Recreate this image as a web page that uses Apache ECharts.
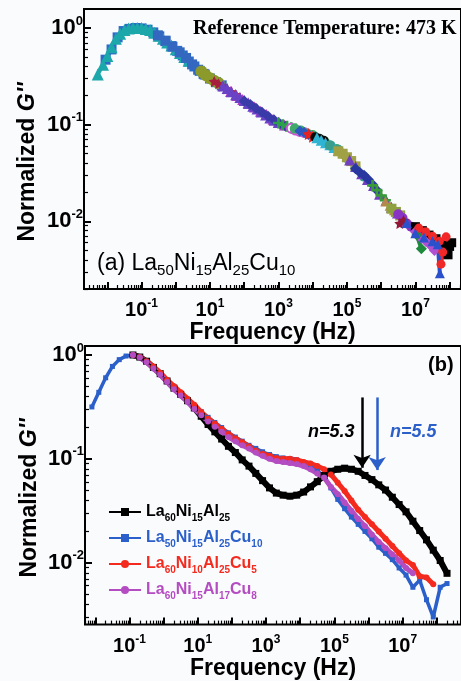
<!DOCTYPE html>
<html><head><meta charset="utf-8">
<script src="https://cdn.jsdelivr.net/npm/echarts@6/dist/echarts.min.js"></script>
<style>html,body{margin:0;padding:0;background:#fafbfd}#c{width:461px;height:681px}</style>
</head><body><div id="c"></div><script>
// ---------- Panel (b) data ----------
const freqB = [0.0079, 0.0126, 0.02, 0.0316, 0.05, 0.079, 0.126, 0.2, 0.316, 0.5, 0.79, 1.26, 2, 3.16, 5, 7.9, 12.6, 20, 31.6, 50, 79, 126, 200, 316, 500, 790, 1260, 2000, 3160, 5000, 7900, 12600, 20000, 31600, 50000, 79000, 1.26e5, 2e5, 3.16e5, 5e5, 7.9e5, 1.26e6, 2e6, 3.16e6, 5e6, 7.9e6, 1.26e7, 2e7, 3.16e7, 5e7, 7.9e7, 1.26e8, 2e8];
const gBlack = [null, null, null, null, null, null, 1.0, 0.955, 0.871, 0.759, 0.661, 0.562, 0.479, 0.417, 0.363, 0.309, 0.257, 0.214, 0.182, 0.155, 0.132, 0.115, 0.0977, 0.0851, 0.0724, 0.0617, 0.0525, 0.0468, 0.0447, 0.0437, 0.0447, 0.0479, 0.0537, 0.0603, 0.0692, 0.0759, 0.0794, 0.0813, 0.0794, 0.0759, 0.0692, 0.0631, 0.0562, 0.0501, 0.0427, 0.0363, 0.0309, 0.0251, 0.0204, 0.0166, 0.0132, 0.0105, 0.0079];
const gBlue = [0.316, 0.437, 0.603, 0.776, 0.902, 0.977, 1.0, 0.955, 0.871, 0.759, 0.661, 0.562, 0.490, 0.427, 0.372, 0.324, 0.285, 0.251, 0.224, 0.200, 0.178, 0.162, 0.148, 0.135, 0.126, 0.117, 0.110, 0.105, 0.102, 0.100, 0.0977, 0.0912, 0.0851, 0.0776, 0.0661, 0.0525, 0.0407, 0.0331, 0.0275, 0.0234, 0.0200, 0.0170, 0.0141, 0.0123, 0.0107, 0.0089, 0.0076, 0.0058, 0.0068, 0.0044, 0.0030, 0.0058, 0.0063];
const gRed = [null, null, null, null, null, null, 1.0, 0.955, 0.871, 0.776, 0.676, 0.575, 0.501, 0.437, 0.380, 0.331, 0.282, 0.245, 0.219, 0.195, 0.174, 0.158, 0.145, 0.132, 0.120, 0.112, 0.107, 0.102, 0.100, 0.100, 0.0977, 0.0933, 0.0902, 0.0851, 0.0794, 0.0708, 0.0589, 0.0490, 0.0398, 0.0324, 0.0275, 0.0234, 0.0200, 0.0170, 0.0145, 0.0123, 0.0105, 0.0095, 0.0074, 0.0072, 0.0062, null, null];
const gMagenta = [null, null, null, null, null, null, 1.0, 0.944, 0.851, 0.741, 0.646, 0.550, 0.468, 0.407, 0.355, 0.302, 0.263, 0.229, 0.204, 0.182, 0.162, 0.148, 0.135, 0.126, 0.115, 0.107, 0.100, 0.0955, 0.0933, 0.0912, 0.0891, 0.0851, 0.0794, 0.0724, 0.0661, 0.0537, 0.0457, 0.0380, 0.0316, 0.0263, 0.0224, 0.0186, 0.0158, 0.0138, 0.0120, 0.0105, 0.0089, 0.0079, null, null, null, null, null];
const namesB = ['La60Ni15Al25', 'La50Ni15Al25Cu10', 'La60Ni10Al25Cu5', 'La60Ni15Al17Cu8'];
// arrows (frequency, top value, tip value)
const arrowBlack = [6.5e5, 0.39, 0.082];
const arrowBlue = [1.8e6, 0.39, 0.078];

// ---------- Panel (a) data (master curve pieces, [Hz, G'']) ----------
const aTeal = [[0.00525,0.331],[0.0075,0.417],[0.01,0.513],[0.0133,0.631],[0.0178,0.776],[0.0237,0.871],[0.0316,0.955],[0.0422,0.989],[0.0562,1.0],[0.075,1.0],[0.1,1.0],[0.133,0.977],[0.178,0.955],[0.237,0.891],[0.316,0.832],[0.422,0.776],[0.562,0.708],[0.75,0.661],[1.0,0.603],[1.33,0.55],[1.78,0.501],[2.37,0.457]];
const aBlue = [[0.0089,0.47],[0.0133,0.6],[0.02,0.8],[0.03,0.93],[0.045,0.98],[0.067,1.0],[0.1,0.99],[0.15,0.96],[0.22,0.9],[0.33,0.82],[0.5,0.73],[0.75,0.65],[1.1,0.58],[1.6,0.52],[2.4,0.45],[3.5,0.4],[5.0,0.36],[6.5,0.335]];
const aBlueB = [[0.3,0.84],[0.5,0.74],[0.8,0.64],[1.3,0.56],[2,0.49],[3,0.42],[4.5,0.37],[7,0.33],[10,0.3],[15,0.275],[22,0.255]];
const aOlive = [[5.62,0.355],[7.5,0.324],[10,0.302],[13.3,0.285],[17.8,0.269]];
const aDkRed = [[13.3,0.28],[17.8,0.265],[23.7,0.25],[31.6,0.234],[42.2,0.219],[56.2,0.204],[75,0.19]];
const aMagenta = [[40,0.22],[60,0.2],[90,0.182],[130,0.168],[200,0.152],[300,0.138],[450,0.127],[700,0.114],[1000,0.106],[1500,0.099]];
const aPurple = [[23.7,0.251],[31.6,0.236],[42.2,0.219],[56.2,0.204],[75,0.191],[100,0.178],[133,0.166],[178,0.155],[237,0.145],[316,0.135],[422,0.126],[562,0.117],[750,0.111],[1000,0.105]];
const aNavy = [[100,0.176],[150,0.162],[220,0.148],[330,0.134],[500,0.122],[750,0.112],[1100,0.102],[1600,0.096],[2400,0.091]];
const aGreen = [[1000,0.104],[1330,0.1],[1780,0.096],[2370,0.093],[3160,0.09]];
const aViolet = [[2370,0.092],[3160,0.088],[4220,0.085],[5620,0.083]];
const aGreenC = [[3000,0.091],[4500,0.087],[7000,0.081],[10000,0.078],[15000,0.072],[22000,0.067],[33000,0.061],[50000,0.056],[75000,0.05]];
const aBlue2 = [[4220,0.086],[5620,0.083],[7500,0.079]];
const aRedStar = [[7500,0.08],[10000,0.075]];
const aBlackCirc = [[12000,0.074],[16000,0.071],[21000,0.068]];
const aCyan = [[13300,0.073],[17800,0.069],[23700,0.065],[31600,0.062],[42200,0.058],[56200,0.054]];
const aTeal2 = [[31600,0.061],[56200,0.055],[100000,0.045],[178000,0.036],[316000,0.029]];
const aKhaki = [[56200,0.053],[75000,0.05],[100000,0.046],[133000,0.042],[178000,0.037]];
const aPurpleC = [[1.2e5,0.043],[1.8e5,0.037],[2.7e5,0.031],[4e5,0.027],[6e5,0.0235],[9e5,0.019],[1.4e6,0.0165],[2e6,0.014],[3e6,0.0122],[4.5e6,0.0105]];
const aNavy2 = [[178000,0.035],[237000,0.032],[316000,0.03],[422000,0.027],[562000,0.024],[750000,0.021]];
const aGreen2 = [[562000,0.0235],[750000,0.021],[1000000,0.0185],[1330000,0.0165]];
const aBrown = [[1330000,0.016],[1780000,0.0145],[2370000,0.013]];
const aOlive2 = [[2000000,0.0135],[2700000,0.0125],[3600000,0.0115]];
const aPurple2 = [[3160000,0.0118],[4220000,0.0108],[5620000,0.0095],[7500000,0.0088],[10000000,0.0082]];
const aDkStar = [[3500000,0.0095],[4500000,0.0102]];
const aBlack2 = [[10000000,0.0088],[16000000,0.008],[25000000,0.0072],[40000000,0.0066],[60000000,0.0057],[75000000,0.005],[90000000,0.0045],[100000000,0.0055],[115000000,0.006]];
const aViolet2 = [[10000000,0.0078],[14000000,0.0068],[20000000,0.0062],[28000000,0.0056],[36000000,0.005]];
const aGreen3 = [[11000000,0.0072],[15000000,0.0052]];
const aRed2 = [[12600000,0.0085],[20000000,0.0078],[31600000,0.007],[50000000,0.0062],[56000000,0.0036],[63000000,0.0048],[79000000,0.0069]];
const aBlue3 = [[5620000,0.0096],[10000000,0.0075],[17800000,0.0068],[31600000,0.0062],[45000000,0.0058],[52000000,0.0029]];

// ---------- axes ----------
const xMajor = [1e-2, 1e-1, 1, 10, 1e2, 1e3, 1e4, 1e5, 1e6, 1e7, 1e8];
const xLabels = [1e-1, 10, 1e3, 1e5, 1e7];
const yMajor = [1e-2, 1e-1, 1];
const yLabels = [1, 0.1, 0.01];
const extA = {x: [Math.pow(10, -2.681), Math.pow(10, 8.333)], y: [Math.pow(10, -2.7005), Math.pow(10, 0.1966)]};
const extB = {x: [Math.pow(10, -2.304), Math.pow(10, 8.71)], y: [Math.pow(10, -2.596), Math.pow(10, 0.0865)]};

function minors(ext, k0, k1) {
  const out = [];
  for (let k = k0; k <= k1; k++) for (let m = 2; m <= 9; m++) {
    const v = m * Math.pow(10, k);
    if (v > ext[0] && v < ext[1]) out.push(v);
  }
  return out;
}

const FONT = '"Liberation Sans", Arial, sans-serif';
const STAR = 'path://M0,-10 L2.9,-4 9.5,-3.1 4.7,1.5 5.9,8.1 0,5 -5.9,8.1 -4.7,1.5 -9.5,-3.1 -2.9,-4 Z';
const PLUS = 'path://M-1.2,-5 h2.4 v3.8 h3.8 v2.4 h-3.8 v3.8 h-2.4 v-3.8 h-3.8 v-2.4 h3.8 Z';

function richFor(main, sup) {
  return {
    b: {fontSize: main, fontWeight: 'bold', fontFamily: FONT, color: '#000', lineHeight: main + 5},
    s: {fontSize: sup, fontWeight: 'bold', fontFamily: FONT, color: '#000', verticalAlign: 'top', lineHeight: 8}
  };
}
function pow10Label(v) {
  const e = Math.round(Math.log10(v));
  return '{b|10}{s|' + e + '}';
}

function xAxes(grid, ext, nameGap) {
  return [
    {type: 'log', gridIndex: grid, position: 'bottom', min: ext[0], max: ext[1],
     name: 'Frequency (Hz)', nameLocation: 'middle', nameGap: nameGap,
     nameTextStyle: {fontSize: 23, fontWeight: 'bold', fontFamily: FONT, color: '#000'},
     axisLine: {show: false}, splitLine: {show: false},
     axisTick: {show: true, inside: true, length: 7, customValues: xMajor, lineStyle: {color: '#000', width: 2}},
     axisLabel: {show: true, customValues: xLabels, formatter: pow10Label, margin: 9, rich: richFor(20, 12)}},
    {type: 'log', gridIndex: grid, position: 'bottom', min: ext[0], max: ext[1],
     axisLine: {show: false}, splitLine: {show: false}, axisLabel: {show: false},
     axisTick: {show: true, inside: true, length: 4, customValues: minors(ext, -3, 8), lineStyle: {color: '#000', width: 1.2}}}
  ];
}
function yAxes(grid, ext) {
  return [
    {type: 'log', gridIndex: grid, position: 'left', min: ext[0], max: ext[1],
     axisLine: {show: false}, splitLine: {show: false},
     axisTick: {show: true, inside: true, length: 7, customValues: yMajor, lineStyle: {color: '#000', width: 2}},
     axisLabel: {show: true, customValues: yLabels, formatter: pow10Label, margin: 1, rich: richFor(22, 13)}},
    {type: 'log', gridIndex: grid, position: 'left', min: ext[0], max: ext[1],
     axisLine: {show: false}, splitLine: {show: false}, axisLabel: {show: false},
     axisTick: {show: true, inside: true, length: 4, customValues: minors(ext, -3, 0), lineStyle: {color: '#000', width: 1.2}}}
  ];
}

// ---------- series ----------
const series = [];
const aSpecs = [
  [aBlue, '#2c6cc8', 'rect', 10],
  [aTeal, '#1ca7aa', 'triangle', 12],
  [aBlueB, '#3468c0', 'rect', 10],
  [aOlive, '#8c9a2c', 'circle', 12],
  [aDkRed, '#a81e3e', STAR, 11],
  [aMagenta, '#b03cc0', 'triangle', 11],
  [aPurple, '#6a42c6', 'triangle', 11],
  [aNavy, '#3a3aa8', 'diamond', 11],
  [aGreen, '#2ea04a', PLUS, 11],
  [aViolet, '#c458d0', 'emptyCircle', 9],
  [aGreenC, '#40a868', 'circle', 10],
  [aBlue2, '#2a58c0', 'diamond', 11],
  [aRedStar, '#e62222', STAR, 12],
  [aBlackCirc, '#0a0a0a', 'circle', 10],
  [aCyan, '#2fb4d4', 'triangle', 11],
  [aTeal2, '#3a9e8e', 'circle', 10],
  [aKhaki, '#a0a044', 'rect', 10],
  [aPurpleC, '#7040c0', 'triangle', 11],
  [aNavy2, '#2838a0', 'diamond', 11],
  [aGreen2, '#3a9a3a', PLUS, 11],
  [aBrown, '#b8864a', 'triangle', 10],
  [aOlive2, '#8fa040', 'rect', 10],
  [aPurple2, '#8a34c4', 'circle', 10],
  [aDkStar, '#921838', STAR, 11],
  [aBlack2, '#000000', 'rect', 9],
  [aViolet2, '#b050d0', 'diamond', 11],
  [aGreen3, '#1e8a3e', 'diamond', 11],
  [aRed2, '#f02828', 'circle', 9],
  [aBlue3, '#2a50cc', 'triangle', 10]
];
aSpecs.forEach(function (sp, i) {
  series.push({type: 'line', name: 'a' + i, xAxisIndex: 0, yAxisIndex: 0, data: sp[0],
    symbol: sp[2], symbolSize: sp[3], showSymbol: true,
    itemStyle: {color: sp[1], borderWidth: 0}, lineStyle: {color: sp[1], width: 4}});
});

const colB = ['#000000', '#2b5fc9', '#f52a1e', '#b44cc2'];
const valsB = [gBlack, gBlue, gRed, gMagenta];
const symB = ['rect', 'rect', 'circle', 'circle'];
const sizeB = [7, 5, 6, 6];
const lwB = [6, 3.5, 5, 5];
valsB.forEach(function (vals, i) {
  series.push({type: 'line', name: namesB[i], xAxisIndex: 2, yAxisIndex: 2,
    data: freqB.map(function (f, j) { return [f, vals[j]]; }),
    symbol: symB[i], symbolSize: sizeB[i], showSymbol: true, connectNulls: false,
    itemStyle: {color: colB[i]}, lineStyle: {color: colB[i], width: lwB[i]}});
});
function arrowLine(a, color) {
  return {silent: true, symbol: ['none', 'arrow'], symbolSize: 13, label: {show: false},
    itemStyle: {color: color},
    lineStyle: {color: color, width: 2.5, type: 'solid'},
    data: [[{coord: [a[0], a[1]]}, {coord: [a[0], a[2]]}]]};
}
series[aSpecs.length].markLine = arrowLine(arrowBlack, '#000');
series[aSpecs.length + 1].markLine = arrowLine(arrowBlue, '#2b5fc9');

const legRich = {
  m: {fontSize: 16, fontWeight: 'bold', fontFamily: FONT, lineHeight: 22},
  s: {fontSize: 10, fontWeight: 'bold', fontFamily: FONT, verticalAlign: 'bottom', lineHeight: 12}
};
function legName(n) {
  return n.replace(/([A-Za-z]+)(\d+)/g, '{m|$1}{s|$2}');
}

const yTitleRich = {n: {fontSize: 23, fontWeight: 'bold', fontFamily: FONT, fill: '#000'}, g: {fontSize: 23, fontWeight: 'bold', fontStyle: 'italic', fontFamily: FONT, fill: '#000'}};
const option = {
  animation: false,
  backgroundColor: '#fafbfd',
  grid: [
    {left: 84, top: 9, width: 380, height: 280, show: true, borderColor: '#000', borderWidth: 2, backgroundColor: 'transparent'},
    {left: 85, top: 346, width: 380, height: 279, show: true, borderColor: '#000', borderWidth: 2, backgroundColor: 'transparent'}
  ],
  xAxis: xAxes(0, extA.x, 24).concat(xAxes(1, extB.x, 21)),
  yAxis: yAxes(0, extA.y).concat(yAxes(1, extB.y)),
  legend: {
    show: true, orient: 'vertical', left: 108, top: 504, padding: 0, itemWidth: 32, itemHeight: 10, itemGap: 7,
    selectedMode: false, formatter: legName,
    textStyle: {fontFamily: FONT, fontWeight: 'bold', fontSize: 16, rich: legRich},
    data: namesB.map(function (n, i) { return {name: n, textStyle: {color: colB[i], rich: legRich}}; })
  },
  series: series,
  graphic: [
    {type: 'text', x: 28, y: 162, rotation: Math.PI / 2, style: {text: '{n|Normalized }{g|G\'\'}', textAlign: 'center', textVerticalAlign: 'middle', rich: yTitleRich}},
    {type: 'text', x: 30, y: 498, rotation: Math.PI / 2, style: {text: '{n|Normalized }{g|G\'\'}', textAlign: 'center', textVerticalAlign: 'middle', rich: yTitleRich}},
    {type: 'text', x: 193, y: 29, style: {text: 'Reference Temperature: 473 K', fill: '#000', textVerticalAlign: 'middle',
      font: 'bold 20px "Liberation Serif", "Times New Roman", serif'}},
    {type: 'text', x: 97, y: 264, style: {text: '{m|(a) La}{s|50}{m|Ni}{s|15}{m|Al}{s|25}{m|Cu}{s|10}', textVerticalAlign: 'middle',
      rich: {m: {fontSize: 23, fontFamily: FONT, fill: '#000', lineHeight: 28}, s: {fontSize: 15, fontFamily: FONT, fill: '#000', verticalAlign: 'bottom', lineHeight: 14}}}},
    {type: 'text', x: 428, y: 365, style: {text: '(b)', fill: '#000', textVerticalAlign: 'middle', font: 'bold 20px "Liberation Sans", Arial, sans-serif'}},
    {type: 'text', x: 308, y: 432, style: {text: 'n=5.3', fill: '#000', textVerticalAlign: 'middle', font: 'italic bold 18px "Liberation Sans", Arial, sans-serif'}},
    {type: 'text', x: 390, y: 432, style: {text: 'n=5.5', fill: '#2b5fc9', textVerticalAlign: 'middle', font: 'italic bold 18px "Liberation Sans", Arial, sans-serif'}}
  ]
};
const chart = echarts.init(document.getElementById('c'), null, {renderer: 'canvas'});
chart.setOption(option);
</script></body></html>
